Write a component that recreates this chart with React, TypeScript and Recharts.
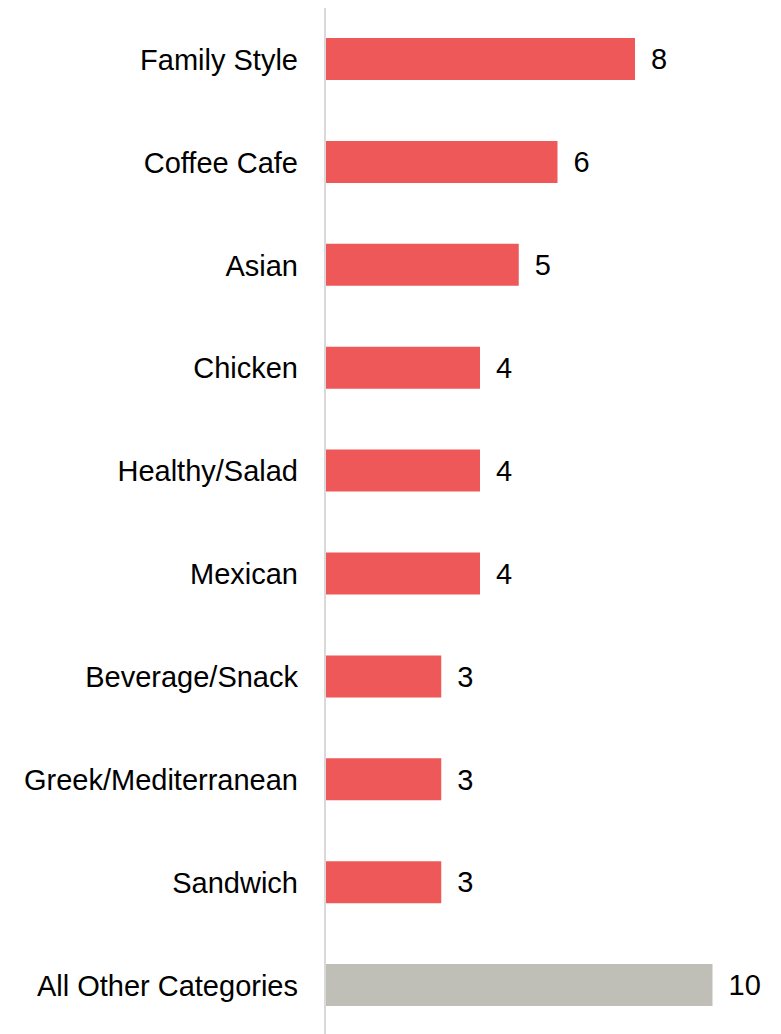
import { Bar, BarChart, Cell, LabelList, XAxis, YAxis } from 'recharts';

const categories = [
  'Family Style',
  'Coffee Cafe',
  'Asian',
  'Chicken',
  'Healthy/Salad',
  'Mexican',
  'Beverage/Snack',
  'Greek/Mediterranean',
  'Sandwich',
  'All Other Categories'
];
const counts = [8, 6, 5, 4, 4, 4, 3, 3, 3, 10];
const barColors = [
  '#ee5858', '#ee5858', '#ee5858', '#ee5858', '#ee5858',
  '#ee5858', '#ee5858', '#ee5858', '#ee5858', '#bfbfb7'
];

const data = categories.map((name, i) => ({ name, count: counts[i] }));

const font = '"Liberation Sans", Arial, sans-serif';

export default function App() {
  return (
    <div style={{ fontFamily: font }}>
      <BarChart
        width={760}
        height={1029}
        data={data}
        layout="vertical"
        margin={{ top: 0, right: 55.5, bottom: 0, left: 0 }}
      >
        <XAxis type="number" domain={[0, 10]} hide />
        <YAxis
          type="category"
          dataKey="name"
          width={317}
          tickLine={false}
          tickSize={0}
          tickMargin={27}
          axisLine={{ stroke: '#d9d9d9', strokeWidth: 2 }}
          tick={{ fill: '#000000', fontSize: 29, fontFamily: font }}
          interval={0}
        />
        <Bar dataKey="count" barSize={42} isAnimationActive={false}>
          {data.map((d, i) => (
            <Cell key={d.name} fill={barColors[i]} />
          ))}
          <LabelList
            dataKey="count"
            position="right"
            offset={16}
            style={{ fill: '#000000', fontSize: 29, fontFamily: font }}
          />
        </Bar>
      </BarChart>
    </div>
  );
}
